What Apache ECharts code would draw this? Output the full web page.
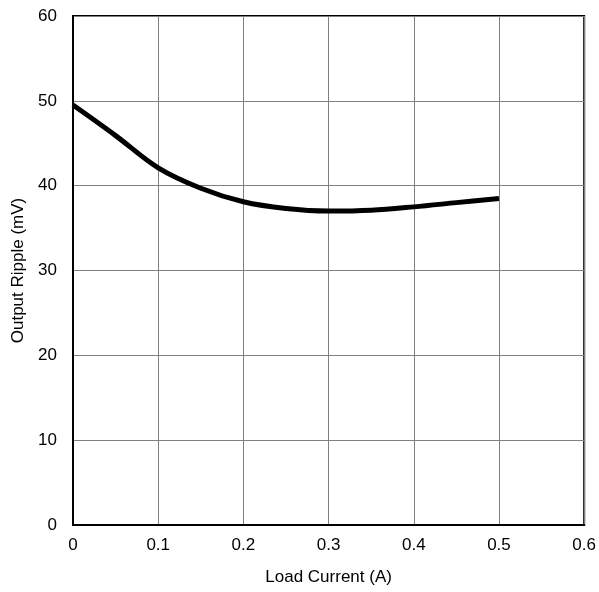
<!DOCTYPE html>
<html><head><meta charset="utf-8">
<script src="https://cdn.jsdelivr.net/npm/echarts@6/dist/echarts.min.js"></script>
<style>html,body{margin:0;padding:0;background:#fff}#c{width:599px;height:592px}</style>
</head><body><div id="c"></div>
<script>
const loadCurrent = [0, 0.05, 0.1, 0.15, 0.2, 0.25, 0.3, 0.35, 0.4, 0.45, 0.5];
const outputRipple = [49.5, 45.9, 42.1, 39.7, 38.1, 37.3, 37.0, 37.1, 37.5, 38.0, 38.5];
const xTicks = [0, 0.1, 0.2, 0.3, 0.4, 0.5, 0.6];
const yTicks = [0, 10, 20, 30, 40, 50, 60];

const chart = echarts.init(document.getElementById('c'), null, {renderer: 'canvas'});
const font = 'Liberation Sans, Arial, sans-serif';
chart.setOption({
  animation: false,
  grid: {left: 73, right: 12, top: 16, bottom: 67, show: true, borderColor: '#000', borderWidth: 2, backgroundColor: 'transparent'},
  xAxis: {
    type: 'value', min: 0, max: 0.6, interval: 0.1,
    name: 'Load Current (A)', nameLocation: 'middle', nameGap: 44,
    nameTextStyle: {fontFamily: font, fontSize: 17, color: '#000'},
    axisLine: {show: true, lineStyle: {color: '#000', width: 2}},
    axisTick: {show: false},
    axisLabel: {fontFamily: font, fontSize: 17, color: '#000', margin: 12, formatter: v => xTicks.includes(+v.toFixed(1)) ? String(+v.toFixed(1)) : ''},
    splitLine: {show: true, lineStyle: {color: '#808080', width: 1}}
  },
  yAxis: {
    type: 'value', min: 0, max: 60, interval: 10,
    name: 'Output Ripple (mV)', nameLocation: 'middle', nameGap: 46,
    nameTextStyle: {fontFamily: font, fontSize: 17, color: '#000'},
    axisLine: {show: true, lineStyle: {color: '#000', width: 2}},
    axisTick: {show: false},
    axisLabel: {fontFamily: font, fontSize: 17, color: '#000', margin: 16, formatter: v => yTicks.includes(v) ? String(v) : ''},
    splitLine: {show: true, lineStyle: {color: '#808080', width: 1}}
  },
  series: [{
    type: 'line', smooth: 0.35, showSymbol: false,
    data: loadCurrent.map((x, i) => [x, outputRipple[i]]),
    lineStyle: {color: '#000', width: 5}
  }]
});
</script></body></html>
